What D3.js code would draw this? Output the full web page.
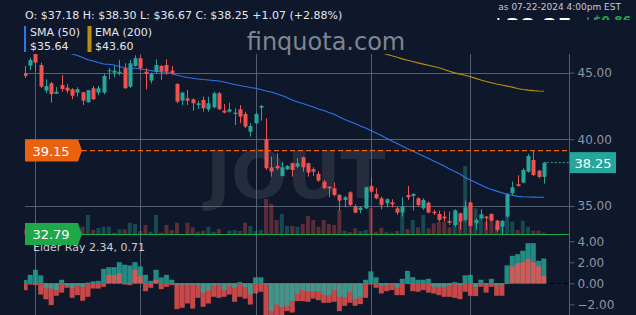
<!DOCTYPE html>
<html><head><meta charset="utf-8">
<script src="https://cdn.jsdelivr.net/npm/d3@7"></script>
<style>
html,body{margin:0;padding:0;background:#0f172a;overflow:hidden;}
svg{display:block;font-family:"DejaVu Sans",sans-serif;}
</style></head><body>
<svg id="c" width="636" height="315"></svg>
<script>
// ---------- DATA ----------
const tradingDays = [
  ["2024-02", [28,29]],
  ["2024-03", [1,4,5,6,7,8,11,12,13,14,15,18,19,20,21,22,25,26,27,28]],
  ["2024-04", [1,2,3,4,5,8,9,10,11,12,15,16,17,18,19,22,23,24,25,26,29,30]],
  ["2024-05", [1,2,3,6,7,8,9,10,13,14,15,16,17,20,21,22,23,24,28,29,30,31]],
  ["2024-06", [3,4,5,6,7,10,11,12,13,14,17,18,20,21,24,25,26,27,28]],
  ["2024-07", [1,2,3,5,8,9,10,11,12,15,16,17,18,19,22]]
];
const dates = tradingDays.flatMap(([m, ds]) => ds.map(d => m + "-" + String(d).padStart(2,"0")));

const opens = [44.97,45.52,46.4,45.57,43.65,44.2,43.42,44.07,43.87,43.75,
43.5,43.52,42.78,43.83,43.5,43.5,45.12,45.0,44.95,45.33,
43.95,45.5,46.08,45.07,44.4,45.07,45.5,45.57,45.15,44.15,
42.9,43.07,43.0,42.57,42.95,42.25,42.4,43.45,42.15,42.07,
41.9,42.25,41.9,40.57,41.2,42.37,40.0,37.9,38.0,37.25,
37.75,38.2,37.95,38.65,38.2,37.75,37.4,36.82,36.45,36.33,
35.82,35.45,36.02,34.95,34.7,34.82,36.5,35.9,35.57,35.2,
35.27,34.82,34.5,35.82,35.75,35.57,34.82,35.25,34.57,34.4,
34.2,33.87,33.57,34.45,33.95,35.27,33.7,34.07,34.2,34.4,
33.9,33.45,34.2,35.95,36.63,36.75,37.57,38.45,37.65,37.18];
const highs = [45.5,46.1,46.47,45.75,44.5,44.3,43.92,44.82,44.15,43.83,
43.9,43.57,43.7,44.0,44.0,44.9,45.35,45.5,45.95,45.7,
45.95,46.3,46.2,45.33,45.0,46.0,45.57,46.0,45.5,44.2,
43.57,43.7,43.07,42.9,43.2,43.2,43.55,43.55,42.65,42.75,
42.33,42.57,42.07,41.2,42.0,42.57,41.57,38.7,38.95,38.3,
38.07,38.25,38.6,38.7,38.25,37.9,37.6,36.95,36.45,36.75,
35.9,35.75,36.1,35.1,34.95,36.45,37.07,36.33,35.7,35.57,
35.5,34.95,35.65,36.5,35.95,35.65,35.57,35.33,34.7,34.65,
34.6,34.57,34.75,34.5,35.4,35.33,34.07,34.75,34.25,34.45,
33.95,33.95,35.95,36.82,37.3,37.82,38.9,39.15,37.7,38.30];
const lows = [44.6,45.2,45.1,43.85,43.47,42.75,43.4,43.57,43.45,43.0,
43.2,42.57,42.75,42.95,43.3,43.38,44.5,44.65,44.8,43.78,
43.85,45.45,45.2,43.75,44.2,44.95,44.45,44.83,44.83,42.7,
42.57,42.57,42.15,42.27,42.07,42.07,42.33,42.2,41.95,42.0,
41.07,41.2,40.83,40.2,41.15,41.4,37.7,37.2,37.7,37.2,
37.7,37.2,37.83,37.57,37.2,37.25,36.8,36.27,35.65,35.7,
34.65,34.9,35.0,34.45,34.45,34.77,36.0,35.5,34.75,34.9,
34.9,34.33,34.2,35.45,34.65,34.95,34.7,34.45,34.33,33.83,
33.83,33.57,33.45,33.2,33.8,33.45,33.2,34.0,33.2,33.83,
33.07,32.79,34.12,35.82,36.45,36.7,37.5,37.25,37.07,36.67];
const closes = [44.75,45.95,45.75,43.95,44.0,43.38,43.57,43.77,43.65,43.27,
43.75,42.9,43.68,43.0,43.83,44.75,45.17,45.15,45.07,43.83,
45.7,46.08,45.33,44.9,44.9,45.57,45.07,45.07,44.95,42.82,
43.5,42.9,42.7,42.7,42.33,42.7,43.45,42.25,42.0,42.25,
42.0,41.7,40.95,41.0,41.9,42.5,37.83,37.57,37.83,37.9,
38.0,37.7,38.2,37.9,37.5,37.57,36.9,36.33,36.33,35.82,
35.4,35.65,35.07,34.5,34.87,36.4,36.07,35.57,35.07,35.5,
35.12,34.5,34.95,35.65,35.9,35.07,35.45,34.5,34.45,33.95,
34.07,33.75,34.65,33.82,34.9,33.5,33.95,34.37,34.07,33.9,
33.2,33.87,35.82,36.4,36.5,37.7,38.75,37.32,37.18,38.25];
// volume in thousands of shares
const volumes = [60,80,90,110,70,100,50,60,50,70,
60,83,200,50,70,83,83,23,57,57,
123,110,40,100,33,200,23,100,50,123,
10,123,77,33,43,83,33,60,10,43,
50,40,123,90,40,50,360,310,150,210,
90,90,83,110,190,150,83,150,110,100,
250,43,30,67,40,50,270,33,73,33,
23,40,220,60,150,77,200,67,117,133,
133,77,250,133,690,280,267,200,133,180,
100,100,183,133,50,143,83,43,43,23];
const sma50 = [null,null,null,null,null,null,null,null,46.5,46.4,
46.28,46.13,45.97,45.87,45.76,45.65,45.63,45.57,45.46,45.35,
45.33,45.33,45.27,45.22,45.15,45.10,45.05,45.03,44.94,44.82,
44.71,44.64,44.58,44.52,44.48,44.45,44.41,44.37,44.30,44.20,
44.11,44.04,43.96,43.89,43.83,43.74,43.62,43.55,43.41,43.28,
43.14,42.95,42.80,42.69,42.55,42.42,42.27,42.16,42.01,41.88,
41.67,41.49,41.34,41.19,41.00,40.85,40.66,40.47,40.29,40.08,
39.87,39.68,39.50,39.29,39.12,38.93,38.75,38.56,38.37,38.18,
37.99,37.77,37.58,37.40,37.13,36.95,36.76,36.57,36.38,36.23,
36.11,35.99,35.87,35.80,35.72,35.69,35.67,35.66,35.65,35.64];
const ema200 = [null,null,null,null,null,null,null,null,null,null,
null,null,null,null,null,null,null,null,null,null,
null,null,null,null,null,null,null,null,null,null,
null,null,null,null,null,null,null,null,null,null,
null,null,null,null,null,null,null,null,null,null,
null,null,null,null,null,null,null,null,null,null,
null,null,null,null,null,null,null,null,46.50,46.38,
46.26,46.15,46.03,45.93,45.83,45.73,45.64,45.55,45.46,45.36,
45.24,45.10,44.98,44.89,44.80,44.69,44.57,44.45,44.33,44.24,
44.15,44.07,43.99,43.91,43.81,43.74,43.69,43.65,43.62,43.60];
const bullPower = [0.3,0.79,1.27,0.73,-0.45,-0.48,-0.63,0.32,-0.16,-0.41,
-0.16,-0.32,0.05,0.16,0.22,1.36,1.52,1.52,2.0,1.75,
1.68,2.0,1.59,0.79,0.22,1.27,0.54,0.79,0.32,-0.1,
-0.1,-0.1,-0.1,-0.16,-0.86,-0.63,-0.16,-0.1,-0.63,-0.22,
-0.41,0.1,-0.32,-1.05,0.54,0.54,-0.1,-2.63,-2.0,-2.22,
-2.16,-1.68,-0.95,-0.63,-0.73,-0.79,-0.73,-1.05,-1.11,-0.63,
-1.27,-1.27,-0.79,-1.49,-1.27,0.32,1.11,0.54,-0.16,-0.16,
-0.05,-0.41,0.41,1.17,0.57,0.32,0.32,0.41,-0.32,-0.32,
-0.32,-0.16,0.1,-0.16,0.73,0.79,-0.32,0.32,-0.1,0.41,
-0.16,-0.1,1.68,2.6,2.76,3.08,3.81,3.81,2.13,2.34];
const bearPower = [-0.64,-0.1,-0.15,-1.05,-1.5,-2.06,-1.17,-0.86,-0.41,-1.37,
-1.11,-1.65,-1.27,-0.48,-0.48,-0.32,0.79,0.73,0.95,-0.1,
-0.16,1.27,0.63,-0.73,-0.41,0.32,-0.54,-0.32,-0.16,-2.44,
-2.32,-1.9,-2.38,-1.37,-2.22,-1.9,-1.27,-1.37,-1.27,-1.05,
-1.75,-1.27,-1.43,-2.0,-0.95,-0.79,-3.3,-3.5,-3.2,-3.1,
-2.63,-2.76,-1.68,-1.68,-1.75,-1.43,-1.59,-1.84,-1.84,-1.75,
-2.63,-2.13,-1.84,-2.13,-1.97,-1.37,-0.1,-0.41,-0.95,-0.73,
-0.63,-1.11,-1.11,-0.05,-0.73,-0.79,-0.63,-0.86,-0.95,-1.11,
-1.27,-1.27,-1.37,-1.49,-0.79,-1.17,-1.2,-0.32,-0.86,-0.32,
-1.17,-1.17,-0.05,1.59,1.9,2.0,2.32,2.0,1.59,0.71];
const priceTicks = [35, 40, 45];
const elderTicks = [-2, 0, 2, 4];
const highMark = 39.15, lowMark = 32.79, lastClose = 38.25;

// ---------- STYLE ----------
const BG = "#0f172a", UP = "#26a69a", DN = "#ef5350", GRID = "#556072";
const SMA_C = "#2f74f0", EMA_C = "#b8900e", AXIS_T = "#8c95a6";

const svg = d3.select("#c");
svg.append("rect").attr("width",636).attr("height",315).attr("fill",BG);
const defs = svg.append("defs");
defs.append("clipPath").attr("id","pclip").append("rect").attr("x",24).attr("y",54).attr("width",545).attr("height",181.5);
defs.append("clipPath").attr("id","eclip").append("rect").attr("x",24).attr("y",236).attr("width",545).attr("height",79);
defs.append("clipPath").attr("id","hclip").append("rect").attr("x",480).attr("y",0).attr("width",156).attr("height",20);

// ---------- SCALES ----------
const x = d3.scaleBand().domain(dates).range([22.38, 546.38]).padding(0);
const cx = d => x(d) + x.bandwidth()/2;
const y = d3.scaleLinear().domain([32.79, 46.45]).range([235.4, 53.3]);
const vy = d3.scaleLinear().domain([0, 700]).range([235, 165]);
const ey = d3.scaleLinear().domain([-2, 4]).range([304.3, 241.3]);
const axisX = 569;

// ---------- WATERMARKS ----------
svg.append("text").attr("x",296).attr("y",198).attr("text-anchor","middle")
  .attr("font-size",66).attr("font-weight","bold").attr("fill","#252c3d").text("JOUT");
svg.append("text").attr("x",326).attr("y",50).attr("text-anchor","middle")
  .attr("font-size",24).attr("fill","#7f8590").text("finquota.com");

// ---------- GRID ----------
const monthStarts = dates.filter((d,i) => i>0 && d.slice(0,7) !== dates[i-1].slice(0,7));
svg.append("g").selectAll("line").data(monthStarts).join("line")
  .attr("x1", d => Math.round(cx(d))+0.5).attr("x2", d => Math.round(cx(d))+0.5)
  .attr("y1",54).attr("y2",315).attr("stroke",GRID).attr("stroke-width",1);
svg.append("g").selectAll("line").data(priceTicks).join("line")
  .attr("x1",25).attr("x2",axisX).attr("y1", d => Math.round(y(d))+0.5).attr("y2", d => Math.round(y(d))+0.5)
  .attr("stroke",GRID).attr("stroke-width",1);

// ---------- PRICE PANEL ----------
const idx = d3.range(dates.length);
const pg = svg.append("g").attr("clip-path","url(#pclip)");
// volume
pg.append("g").selectAll("rect").data(idx).join("rect")
  .attr("x", i => cx(dates[i]) - 2).attr("width", 4)
  .attr("y", i => vy(volumes[i])).attr("height", i => vy(0) - vy(volumes[i]))
  .attr("fill", i => closes[i] >= opens[i] ? UP : DN).attr("opacity", 0.35);
// moving averages
const line = arr => d3.line().defined(i => arr[i] != null).x(i => cx(dates[i])).y(i => y(arr[i]));
pg.append("path").datum(idx).attr("d", line(sma50)).attr("fill","none").attr("stroke",SMA_C).attr("stroke-width",1.1);
pg.append("path").datum(idx).attr("d", line(ema200)).attr("fill","none").attr("stroke",EMA_C).attr("stroke-width",1.1);
// candles
const cg = pg.append("g");
cg.selectAll("line").data(idx).join("line")
  .attr("x1", i => Math.round(cx(dates[i]))+0.5).attr("x2", i => Math.round(cx(dates[i]))+0.5)
  .attr("y1", i => y(highs[i])).attr("y2", i => y(lows[i]))
  .attr("stroke", i => closes[i] >= opens[i] ? UP : DN).attr("stroke-width",1);
cg.selectAll("rect").data(idx).join("rect")
  .attr("x", i => Math.round(cx(dates[i])) - 1.5).attr("width", 4)
  .attr("y", i => y(Math.max(opens[i], closes[i])))
  .attr("height", i => Math.max(1, Math.abs(y(opens[i]) - y(closes[i]))))
  .attr("fill", i => closes[i] >= opens[i] ? UP : DN);

// ---------- ELDER RAY PANEL ----------
const eg = svg.append("g").attr("clip-path","url(#eclip)");
eg.append("line").attr("x1",25).attr("x2",axisX).attr("y1",ey(0)).attr("y2",ey(0))
  .attr("stroke","#000").attr("stroke-dasharray","4,3").attr("stroke-width",1);
idx.forEach(i => {
  const bars = [{v: bullPower[i], c: UP}, {v: bearPower[i], c: DN}]
    .sort((a,b) => Math.abs(b.v) - Math.abs(a.v));
  bars.forEach(b => {
    eg.append("rect")
      .attr("x", x(dates[i]) + 0.3).attr("width", x.bandwidth() - 0.6)
      .attr("y", Math.min(ey(0), ey(b.v))).attr("height", Math.abs(ey(b.v) - ey(0)))
      .attr("fill", b.c).attr("fill-opacity", 0.82)
      .attr("stroke", b.c).attr("stroke-opacity", 0.5).attr("stroke-width", 0.6);
  });
});
svg.append("text").attr("x",33).attr("y",251).attr("font-size",11).attr("fill","#c9ced6")
  .text("Elder Ray " + bullPower[bullPower.length-1].toFixed(2) + ", " + bearPower[bearPower.length-1].toFixed(2));

// ---------- AXES ----------
svg.append("line").attr("x1",axisX+0.5).attr("x2",axisX+0.5).attr("y1",54).attr("y2",315).attr("stroke",GRID);
const styleAxis = g => {
  g.select(".domain").remove();
  g.selectAll(".tick line").attr("stroke",GRID);
  g.selectAll(".tick text").attr("fill",AXIS_T).attr("font-size",12).attr("font-family","DejaVu Sans");
};
svg.append("g").attr("transform",`translate(${axisX+0.5},0)`)
  .call(d3.axisRight(y).tickValues(priceTicks).tickSize(5).tickPadding(3).tickFormat(d3.format(".2f"))).call(styleAxis);
svg.append("g").attr("transform",`translate(${axisX+0.5},0)`)
  .call(d3.axisRight(ey).tickValues(elderTicks).tickSize(5).tickPadding(3).tickFormat(d3.format(".2f"))).call(styleAxis);

// ---------- PRICE MARKERS ----------
svg.append("line").attr("x1",82).attr("x2",axisX).attr("y1",y(highMark)).attr("y2",y(highMark))
  .attr("stroke","#e8620f").attr("stroke-width",1.2).attr("stroke-dasharray","5,3");
svg.append("line").attr("x1",82).attr("x2",axisX).attr("y1",Math.round(y(lowMark))-0.5).attr("y2",Math.round(y(lowMark))-0.5)
  .attr("stroke","#1fa84a").attr("stroke-width",1.2);
const lastX = cx(dates[dates.length-1]) + 3;
svg.append("line").attr("x1",lastX).attr("x2",axisX).attr("y1",y(lastClose)).attr("y2",y(lastClose))
  .attr("stroke",UP).attr("stroke-width",1).attr("stroke-dasharray","2,2");

function tag(val, color, yc) {
  const h = 22, w = 53;
  svg.append("path")
    .attr("d", `M25,${yc-h/2} L${25+w},${yc-h/2} L${25+w+4},${yc} L${25+w},${yc+h/2} L25,${yc+h/2} Z`)
    .attr("fill", color);
  svg.append("text").attr("x", 51).attr("y", yc+5).attr("text-anchor","middle")
    .attr("font-size",13).attr("fill","#fff").text(val.toFixed(2));
}
tag(highMark, "#e8620f", y(highMark));
tag(lowMark, "#1fa84a", 234);
svg.append("rect").attr("x",570).attr("y",y(lastClose)-10.5).attr("width",46).attr("height",21).attr("fill",UP);
svg.append("text").attr("x",593).attr("y",y(lastClose)+5).attr("text-anchor","middle")
  .attr("font-size",13).attr("fill","#fff").text(lastClose.toFixed(2));

// ---------- HEADER ----------
const o = opens[99], h = highs[99], l = lows[99], c = closes[99], prev = closes[98];
svg.append("text").attr("x",25).attr("y",19).attr("font-size",11).attr("fill","#e4e7ec")
  .text(`O: $${o.toFixed(2)} H: $${h.toFixed(2)} L: $${l.toFixed(2)} C: $${c.toFixed(2)} +${(c-prev).toFixed(2)} (+${((c-prev)/prev*100).toFixed(2)}%)`);
svg.append("rect").attr("x",24).attr("y",26).attr("width",2).attr("height",26).attr("fill",SMA_C);
svg.append("text").attr("x",30).attr("y",35.5).attr("font-size",11).attr("fill","#e4e7ec").text("SMA (50)");
svg.append("text").attr("x",30).attr("y",49.5).attr("font-size",11).attr("fill","#e4e7ec").text("$" + sma50[99].toFixed(2));
svg.append("rect").attr("x",87.5).attr("y",26).attr("width",4).attr("height",26).attr("fill",EMA_C);
svg.append("text").attr("x",95).attr("y",35.5).attr("font-size",11).attr("fill","#e4e7ec").text("EMA (200)");
svg.append("text").attr("x",95).attr("y",49.5).attr("font-size",11).attr("fill","#e4e7ec").text("$" + ema200[99].toFixed(2));
svg.append("text").attr("x",621).attr("y",9.5).attr("text-anchor","end").attr("font-size",9).attr("fill","#c5c9d1")
  .text("as 07-22-2024 4:00pm EST");
const hg = svg.append("g").attr("clip-path","url(#hclip)");
hg.append("text").attr("x",491).attr("y",34).attr("font-size",21).attr("font-weight","bold").attr("fill","#fff").text("$" + c.toFixed(2));
hg.append("text").attr("x",583).attr("y",25).attr("font-size",12).attr("font-weight","bold").attr("fill","#22a447").text("+$0.86");
</script>
</body></html>
